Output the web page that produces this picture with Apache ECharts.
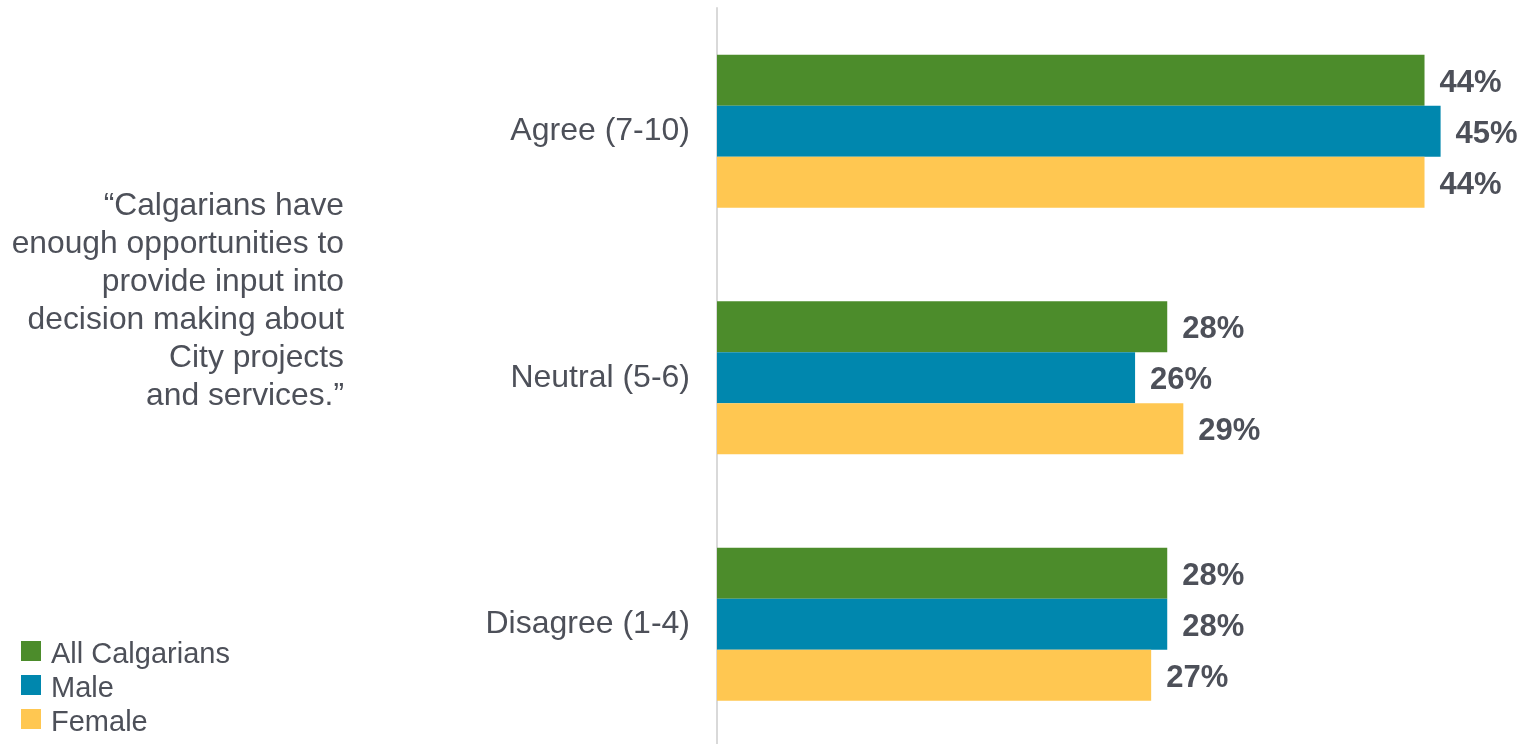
<!DOCTYPE html>
<html>
<head>
<meta charset="utf-8">
<style>
html,body{margin:0;padding:0;background:#fff;overflow:hidden;}
#chart{width:1521px;height:752px;}
</style>
<script src="https://cdn.jsdelivr.net/npm/echarts@6/dist/echarts.min.js"></script>
</head>
<body>
<div id="chart"></div>
<script>
const categories = ['Agree (7-10)', 'Neutral (5-6)', 'Disagree (1-4)'];
const seriesNames = ['All Calgarians', 'Male', 'Female'];
const allCalgarians = [44, 28, 28];
const male = [45, 26, 28];
const female = [44, 29, 27];
const quoteText = '\u201CCalgarians have\nenough opportunities to\nprovide input into\ndecision making about\nCity projects\nand services.\u201D';

const colors = ['#4C8C2B', '#0087AE', '#FFC751'];
const textColor = '#4D5059';
const font = '"Liberation Sans", Arial, sans-serif';

const chart = echarts.init(document.getElementById('chart'));
const values = [allCalgarians, male, female];

chart.setOption({
  animation: false,
  color: colors,
  textStyle: { fontFamily: font },
  grid: { left: 717, right: 0, top: 8, height: 739.5 },
  legend: [{
    orient: 'vertical',
    left: 21,
    top: 641,
    padding: 0,
    itemWidth: 20,
    itemHeight: 20,
    itemGap: 14,
    icon: 'rect',
    formatter: () => '',
    textStyle: { fontSize: 1, lineHeight: 20 },
    data: seriesNames
  }, {
    orient: 'vertical',
    left: 46,
    top: 638,
    padding: 0,
    itemWidth: 0,
    itemHeight: 34,
    itemGap: 0,
    icon: 'none',
    textStyle: { fontSize: 29, color: textColor, lineHeight: 34, fontFamily: font },
    data: seriesNames
  }],
  xAxis: {
    type: 'value',
    min: 0,
    max: 50,
    show: false
  },
  yAxis: {
    type: 'category',
    inverse: true,
    data: categories,
    axisLine: { show: true, lineStyle: { color: '#d9d9d9', width: 2 } },
    axisTick: { show: false },
    axisLabel: { fontSize: 32, color: textColor, margin: 27, fontFamily: font }
  },
  graphic: [{
    type: 'text',
    x: 344,
    y: 187.5,
    style: {
      text: quoteText,
      font: '31.8px ' + font,
      fill: textColor,
      textAlign: 'right',
      textVerticalAlign: 'top',
      lineHeight: 38
    }
  }],
  series: seriesNames.map((name, i) => ({
    name: name,
    type: 'bar',
    data: values[i],
    barWidth: 51,
    barGap: '0%',
    label: {
      show: true,
      position: 'right',
      distance: 15,
      offset: [0, 3],
      formatter: '{c}%',
      fontSize: 31,
      fontWeight: 'bold',
      color: textColor,
      fontFamily: font
    }
  }))
});
</script>
</body>
</html>
